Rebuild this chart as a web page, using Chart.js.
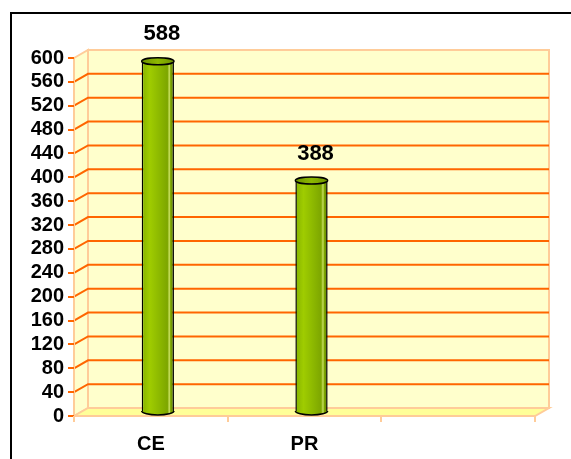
<!DOCTYPE html>
<html>
<head>
<meta charset="utf-8">
<script src="https://cdn.jsdelivr.net/npm/chart.js@4"></script>
<style>
  body { margin: 0; background: #fff; overflow: hidden; }
  #wrap { position: relative; width: 571px; height: 459px; }
  #frame { position: absolute; left: 10px; top: 12px; width: 600px; height: 500px; border: 2px solid #000; pointer-events: none; }
</style>
</head>
<body>
<div id="wrap">
  <canvas id="myChart" width="571" height="459"></canvas>
  <div id="frame"></div>
</div>
<script>
const categories = ['CE', 'PR', ''];
const values = [588, 388, null];
const yMin = 0;
const yMax = 600;
const yStep = 40;

// 3D look: depth offset of the back wall
const DX = 14, DY = -8;

function cylinderFill(ctx, cx, w) {
  const g = ctx.createLinearGradient(cx - w, 0, cx + w, 0);
  g.addColorStop(0, '#86B300');
  g.addColorStop(0.25, '#9FCC00');
  g.addColorStop(0.55, '#8CB800');
  g.addColorStop(0.8, '#7DA600');
  g.addColorStop(0.86, '#C8E060');
  g.addColorStop(0.9, '#7DA600');
  g.addColorStop(1, '#5E8200');
  return g;
}

const wallPlugin = {
  id: 'wall',
  beforeDraw(chart) {
    const ctx = chart.ctx;
    const a = chart.chartArea;
    const y = chart.scales.y;
    const L = a.left, R = a.right, T = a.top, B = a.bottom;
    ctx.save();
    ctx.lineWidth = 2;
    ctx.strokeStyle = '#FFCC99';
    // left wall
    ctx.fillStyle = '#FFFFCC';
    ctx.beginPath();
    ctx.moveTo(L, T); ctx.lineTo(L + DX, T + DY); ctx.lineTo(L + DX, B + DY); ctx.lineTo(L, B);
    ctx.closePath(); ctx.fill(); ctx.stroke();
    // back wall
    ctx.fillRect(L + DX, T + DY, R - L, B - T);
    ctx.strokeRect(L + DX, T + DY, R - L, B - T);
    // floor
    ctx.fillStyle = '#FFFF99';
    ctx.beginPath();
    ctx.moveTo(L, B); ctx.lineTo(L + DX, B + DY); ctx.lineTo(R + DX, B + DY); ctx.lineTo(R, B);
    ctx.closePath(); ctx.fill(); ctx.stroke();
    // grid lines
    ctx.strokeStyle = '#FF6600';
    ctx.lineWidth = 2;
    y.ticks.forEach(t => {
      if (t.value <= yMin || t.value >= yMax) return;
      const py = y.getPixelForValue(t.value);
      ctx.beginPath();
      ctx.moveTo(L, py); ctx.lineTo(L + DX, py + DY); ctx.lineTo(R + DX, py + DY);
      ctx.stroke();
    });
    // front left edge
    ctx.strokeStyle = '#FFCC99';
    ctx.beginPath(); ctx.moveTo(L, T); ctx.lineTo(L, B); ctx.stroke();
    ctx.restore();
  },
  beforeDatasetsDraw(chart) {
    chart.ctx.save();
    chart.ctx.translate(DX / 2, DY / 2);
  },
  afterDatasetsDraw(chart) {
    const ctx = chart.ctx;
    const meta = chart.getDatasetMeta(0);
    meta.data.forEach((bar, i) => {
      if (values[i] == null) return;
      const w = bar.width / 2;
      // bottom rounding
      ctx.beginPath();
      ctx.ellipse(bar.x, bar.base, w, 4, 0, 0, Math.PI);
      ctx.fillStyle = cylinderFill(ctx, bar.x, w);
      ctx.fill();
      ctx.lineWidth = 1.5; ctx.strokeStyle = '#000'; ctx.stroke();
      // top cap
      ctx.beginPath();
      ctx.ellipse(bar.x, bar.y, w, 3.5, 0, 0, Math.PI * 2);
      const g = ctx.createLinearGradient(bar.x - w, 0, bar.x + w, 0);
      g.addColorStop(0, '#6E9400'); g.addColorStop(0.5, '#8DB800'); g.addColorStop(1, '#6E9400');
      ctx.fillStyle = g;
      ctx.fill(); ctx.stroke();
      // value label
      ctx.fillStyle = '#000';
      ctx.font = 'bold 22px "Liberation Sans", Arial, sans-serif';
      ctx.textAlign = 'center';
      ctx.textBaseline = 'middle';
      ctx.fillText(String(values[i]), bar.x + 4, bar.y - 27);
    });
    ctx.restore();
  }
};

const canvas = document.getElementById('myChart');
const myChart = new Chart(canvas.getContext('2d'), {
  type: 'bar',
  data: {
    labels: categories,
    datasets: [{
      data: values,
      backgroundColor: function(c) {
        const xs = c.chart.scales.x;
        const cx = xs && c.dataIndex !== undefined ? xs.getPixelForValue(c.dataIndex) : NaN;
        if (!isFinite(cx)) return '#8DB800';
        return cylinderFill(c.chart.ctx, cx, 16);
      },
      borderColor: '#000',
      borderWidth: 1.5,
      borderSkipped: 'bottom',
      barPercentage: 0.21,
      categoryPercentage: 1
    }]
  },
  options: {
    responsive: false,
    animation: false,
    layout: { padding: { left: 0, top: 58, right: 36, bottom: 0 } },
    plugins: { legend: { display: false }, tooltip: { enabled: false } },
    scales: {
      y: {
        min: yMin,
        max: yMax,
        ticks: {
          stepSize: yStep,
          autoSkip: false,
          color: '#000',
          padding: 4,
          font: { family: '"Liberation Sans", Arial, sans-serif', size: 20, weight: 'bold' }
        },
        grid: { drawOnChartArea: false, tickLength: 6, tickColor: '#FF6600', lineWidth: 2 },
        border: { display: false },
        afterFit(s) { s.width = 74; }
      },
      x: {
        ticks: {
          color: '#000',
          padding: 10,
          font: { family: '"Liberation Sans", Arial, sans-serif', size: 20, weight: 'bold' }
        },
        grid: { offset: true, drawOnChartArea: false, tickLength: 6, tickColor: '#FFCC99', lineWidth: 2 },
        border: { display: false },
        afterFit(s) { s.height = 43; }
      }
    }
  },
  plugins: [wallPlugin]
});
myChart.update();
</script>
</body>
</html>
